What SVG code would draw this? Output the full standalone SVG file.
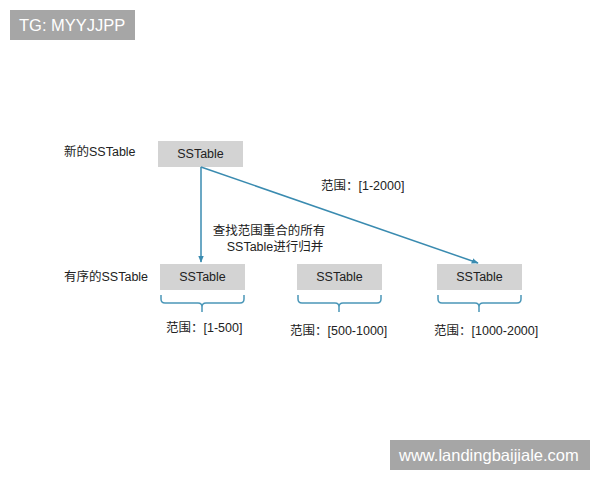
<svg xmlns="http://www.w3.org/2000/svg" width="600" height="480" viewBox="0 0 600 480">
<defs>
<style>
.t{font-family:"Liberation Sans","Noto Sans CJK SC",sans-serif;font-size:12.5px;fill:#222}
.c{text-anchor:middle}
.box{fill:#d3d3d3}
.ln{stroke:#3a8bb0;stroke-width:1.5;fill:none}
.br{stroke:#4b97b8;stroke-width:1.5;fill:none}
.wm{fill:#a6a6a6}
.wt{font-family:"Liberation Sans",sans-serif;font-size:16.5px;fill:#fff}
</style>
<marker id="ah" viewBox="0 0 10 10" refX="9" refY="5" markerWidth="7" markerHeight="7" orient="auto" markerUnits="userSpaceOnUse">
<path d="M0,1 L10,5 L0,9 z" fill="#3a8bb0"/>
</marker>
</defs>
<rect width="600" height="480" fill="#fff"/>
<g id="wm1"><rect class="wm" x="10" y="10" width="125" height="30"/><text class="wt" x="19" y="31">TG: MYYJJPP</text></g>
<g id="wm2"><rect class="wm" x="390" y="440" width="200" height="30"/><text class="wt" x="399" y="461">www.landingbaijiale.com</text></g>
<text class="t" x="64" y="156">新的SSTable</text>
<text class="t" x="64" y="281">有序的SSTable</text>
<g id="new"><rect class="box" x="158" y="141" width="85" height="26"/><text class="t c" x="200.5" y="158">SSTable</text></g>
<g id="s1"><rect class="box" x="160" y="264" width="85" height="26"/><text class="t c" x="202.5" y="281">SSTable</text></g>
<g id="s2"><rect class="box" x="297" y="264" width="85" height="26"/><text class="t c" x="339.5" y="281">SSTable</text></g>
<g id="s3"><rect class="box" x="437" y="264" width="85" height="26"/><text class="t c" x="479.5" y="281">SSTable</text></g>
<g id="connectors">
<line class="ln" x1="201" y1="167" x2="201" y2="262" marker-end="url(#ah)"/>
<line class="ln" x1="201" y1="167" x2="478" y2="263" marker-end="url(#ah)"/>
</g>
<g id="braces">
<path class="br" d="M161,295 v4 q0,4 4,4 h33 q4,0 4,4 v5 M244,295 v4 q0,4 -4,4 h-34 q-4,0 -4,4"/>
<path class="br" d="M298,295 v4 q0,4 4,4 h33 q4,0 4,4 v5 M381,295 v4 q0,4 -4,4 h-34 q-4,0 -4,4"/>
<path class="br" d="M438,295 v4 q0,4 4,4 h33 q4,0 4,4 v5 M521,295 v4 q0,4 -4,4 h-34 q-4,0 -4,4"/>
</g>
<text class="t" x="166" y="332">范围：[1-500]</text>
<text class="t" x="290" y="335">范围：[500-1000]</text>
<text class="t" x="434" y="335">范围：[1000-2000]</text>
<text class="t" x="321" y="190">范围：[1-2000]</text>
<text class="t c" x="269" y="235">查找范围重合的所有</text>
<text class="t c" x="275" y="251">SSTable进行归并</text>
</svg>
